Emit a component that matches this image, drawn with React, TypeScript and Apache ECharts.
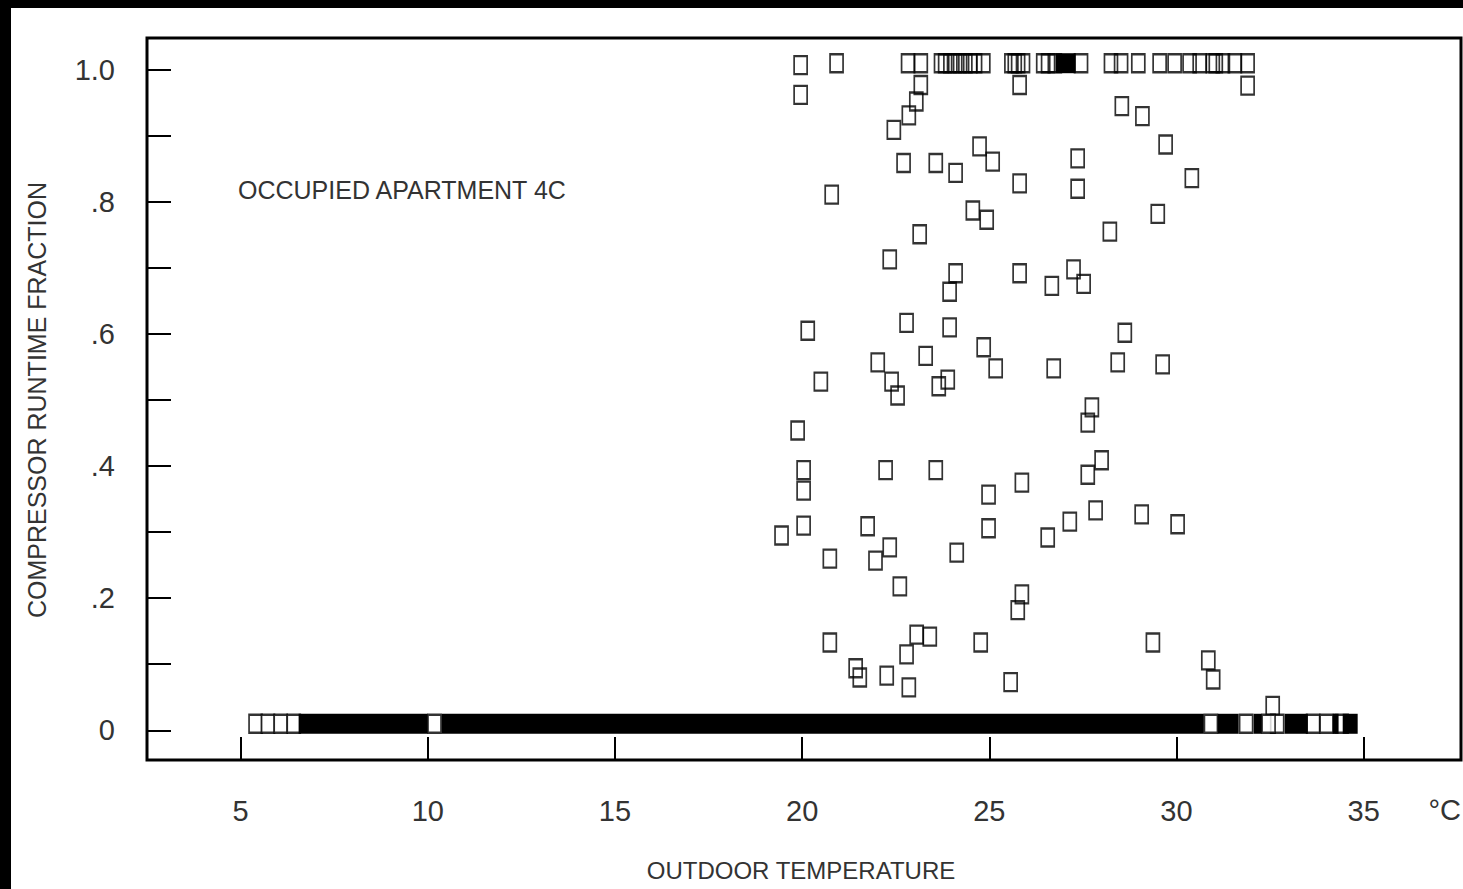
import React, { useEffect, useRef } from "react";
import * as echarts from "echarts";

// ---- axis ticks / labels ----
const xTickValues = [5, 10, 15, 20, 25, 30, 35];
const yTickValues = [0, 0.1, 0.2, 0.3, 0.4, 0.5, 0.6, 0.7, 0.8, 0.9, 1.0];
const yLabelValues = [0, 0.2, 0.4, 0.6, 0.8, 1.0];
const yLabelTexts = ["0", ".2", ".4", ".6", ".8", "1.0"];

// ---- data: [outdoor temperature °C, compressor runtime fraction] ----
const partialRuntime: [number, number][] = [
  [19.96, 0.997], [20.92, 1.0], [19.96, 0.952], [23.17, 0.967], [23.05, 0.942],
  [22.85, 0.921], [22.45, 0.899], [25.81, 0.967], [31.9, 0.966], [28.54, 0.935],
  [29.09, 0.92], [29.71, 0.877], [30.41, 0.826], [24.74, 0.874], [22.71, 0.849],
  [23.57, 0.849], [25.09, 0.851], [24.1, 0.834], [27.36, 0.856], [25.81, 0.818],
  [27.36, 0.81], [20.79, 0.801], [24.56, 0.777], [24.93, 0.763], [29.5, 0.772],
  [28.22, 0.745], [23.14, 0.741], [22.34, 0.703], [24.1, 0.682], [23.94, 0.654],
  [25.81, 0.682], [27.25, 0.688], [26.67, 0.663], [27.52, 0.666], [22.79, 0.607],
  [20.15, 0.595], [23.94, 0.6], [28.62, 0.592], [22.02, 0.547], [23.3, 0.557],
  [24.85, 0.57], [20.5, 0.518], [22.39, 0.518], [23.89, 0.521], [23.65, 0.511],
  [22.55, 0.497], [25.17, 0.538], [26.72, 0.538], [28.43, 0.547], [29.63, 0.544],
  [27.74, 0.479], [27.63, 0.456], [19.88, 0.444], [20.04, 0.384], [20.04, 0.353],
  [22.23, 0.384], [23.57, 0.384], [28.0, 0.399], [27.63, 0.377], [25.87, 0.365],
  [24.98, 0.347], [19.45, 0.285], [20.04, 0.3], [21.75, 0.299], [24.98, 0.296],
  [26.56, 0.282], [27.15, 0.306], [27.84, 0.323], [29.07, 0.317], [30.03, 0.302],
  [20.74, 0.25], [21.96, 0.247], [22.34, 0.267], [24.13, 0.259], [22.61, 0.208],
  [25.87, 0.196], [25.76, 0.172], [20.74, 0.123], [23.06, 0.135], [23.41, 0.132],
  [24.77, 0.123], [29.37, 0.123], [22.79, 0.105], [30.85, 0.096], [21.43, 0.084],
  [21.54, 0.07], [22.26, 0.073], [25.57, 0.063], [22.85, 0.055], [30.98, 0.067],
  [32.57, 0.027],
];

// hours with the compressor running all the time (fraction 1.0)
const fullRuntimeTemps = [
  22.83, 23.17, 23.71, 23.82, 23.96, 24.09, 24.22, 24.36, 24.49, 24.62, 24.84,
  25.59, 25.68, 25.77, 25.9,
  26.44, 26.57, 26.75, 27.45,
  28.25, 28.52, 28.98,
  29.55, 29.95, 30.35, 30.62, 30.97, 31.05, 31.24, 31.56, 31.9,
];
// temperature ranges where full-runtime hours are too dense to separate
const fullDenseRanges: [number, number][] = [[26.77, 27.31]];

// hours with the compressor off (fraction 0)
const zeroRuntimeTemps = [
  5.4, 5.73, 6.07, 6.42, 10.18, 30.92, 31.86, 32.69, 32.46, 33.65, 34.01, 34.41,
];
// temperature ranges where zero-runtime hours are too dense to separate
const zeroDenseRanges: [number, number][] = [
  [6.55, 10.0], [10.37, 30.73], [31.1, 31.66], [32.06, 32.28],
  [32.89, 33.51], [34.17, 34.33], [34.44, 34.84],
];

const FONT = "'Liberation Sans', Arial, 'DejaVu Sans', sans-serif";
const TEXT = "#333";
const BOX_OFFSET = -6.5;

export default function App() {
  const ref = useRef<HTMLDivElement>(null);

  useEffect(() => {
    if (!ref.current) return;
    const chart = echarts.init(ref.current, undefined, { renderer: "svg" });

    const denseData = [
      ...zeroDenseRanges.map((r) => [r[0], r[1], 0]),
      ...fullDenseRanges.map((r) => [r[0], r[1], 1]),
    ];

    const option: any = {
      animation: false,
      backgroundColor: "#fff",
      grid: {
        left: 136,
        right: 2,
        top: 30,
        bottom: 129,
        show: true,
        borderColor: "#000",
        borderWidth: 3,
        backgroundColor: "#fff",
      },
      xAxis: {
        type: "value",
        min: 2.5,
        max: 37.6,
        axisLine: { show: false, onZero: false },
        splitLine: { show: false },
        axisTick: {
          show: true,
          inside: true,
          length: 23,
          customValues: xTickValues,
          lineStyle: { color: "#000", width: 2 },
        },
        axisLabel: {
          customValues: xTickValues,
          fontSize: 29,
          color: TEXT,
          fontFamily: FONT,
          margin: 36,
        },
      },
      yAxis: {
        type: "value",
        min: -0.045,
        max: 1.048,
        axisLine: { show: false, onZero: false },
        splitLine: { show: false },
        axisTick: {
          show: true,
          inside: true,
          length: 24,
          customValues: yTickValues,
          lineStyle: { color: "#000", width: 2 },
        },
        axisLabel: {
          customValues: yLabelValues,
          fontSize: 29,
          color: TEXT,
          fontFamily: FONT,
          margin: 32,
          formatter: (v: number) => {
            let best = 0;
            yLabelValues.forEach((lv, i) => {
              if (Math.abs(lv - v) < Math.abs(yLabelValues[best] - v)) best = i;
            });
            return yLabelTexts[best];
          },
        },
      },
      graphic: [
        {
          type: "text",
          x: 227,
          y: 182,
          style: {
            text: "OCCUPIED APARTMENT 4C",
            fontSize: 25,
            fontFamily: FONT,
            fill: TEXT,
            align: "left",
            verticalAlign: "middle",
          },
        },
        {
          type: "text",
          x: 26,
          y: 392,
          rotation: Math.PI / 2,
          style: {
            text: "COMPRESSOR RUNTIME FRACTION",
            fontSize: 25,
            fontFamily: FONT,
            fill: TEXT,
            align: "center",
            verticalAlign: "middle",
          },
        },
        {
          type: "text",
          x: 790,
          y: 862,
          style: {
            text: "OUTDOOR TEMPERATURE",
            fontSize: 24,
            fontFamily: FONT,
            fill: TEXT,
            align: "center",
            verticalAlign: "middle",
          },
        },
        {
          type: "text",
          x: 1450,
          y: 802,
          style: {
            text: "°C",
            fontSize: 29,
            fontFamily: FONT,
            fill: TEXT,
            align: "right",
            verticalAlign: "middle",
          },
        },
      ],
      series: [
        {
          type: "scatter",
          name: "partial",
          data: partialRuntime,
          symbol: "rect",
          symbolSize: [13, 18],
          symbolOffset: [0, BOX_OFFSET],
          itemStyle: { color: "rgba(0,0,0,0)", borderColor: "#000", borderWidth: 2 },
          z: 2,
        },
        {
          type: "scatter",
          name: "full",
          data: fullRuntimeTemps.map((t) => [t, 1]),
          symbol: "rect",
          symbolSize: [13, 18],
          symbolOffset: [0, BOX_OFFSET],
          itemStyle: { color: "rgba(0,0,0,0)", borderColor: "#000", borderWidth: 2 },
          z: 2,
        },
        {
          type: "scatter",
          name: "zero",
          data: zeroRuntimeTemps.map((t) => [t, 0]),
          symbol: "rect",
          symbolSize: [13, 18],
          symbolOffset: [0, BOX_OFFSET],
          itemStyle: { color: "#fff", borderColor: "#000", borderWidth: 2 },
          z: 2,
        },
        {
          type: "custom",
          name: "dense",
          data: denseData,
          encode: { x: [0, 1], y: 2 },
          z: 3,
          renderItem: (params: any, api: any) => {
            const s = api.coord([api.value(0), api.value(2)]);
            const e = api.coord([api.value(1), api.value(2)]);
            return {
              type: "rect",
              shape: {
                x: s[0],
                y: s[1] + BOX_OFFSET - 10,
                width: e[0] - s[0],
                height: 20,
              },
              style: { fill: "#000" },
            };
          },
        },
      ],
    };

    chart.setOption(option);
    return () => chart.dispose();
  }, []);

  return (
    <div
      style={{
        position: "fixed",
        left: 0,
        top: 0,
        width: "100vw",
        height: "100vh",
        background: "#000",
        overflow: "hidden",
      }}
    >
      <div
        ref={ref}
        style={{
          position: "absolute",
          left: 11,
          top: 8,
          width: 1452,
          height: 881,
          background: "#fff",
        }}
      />
    </div>
  );
}
